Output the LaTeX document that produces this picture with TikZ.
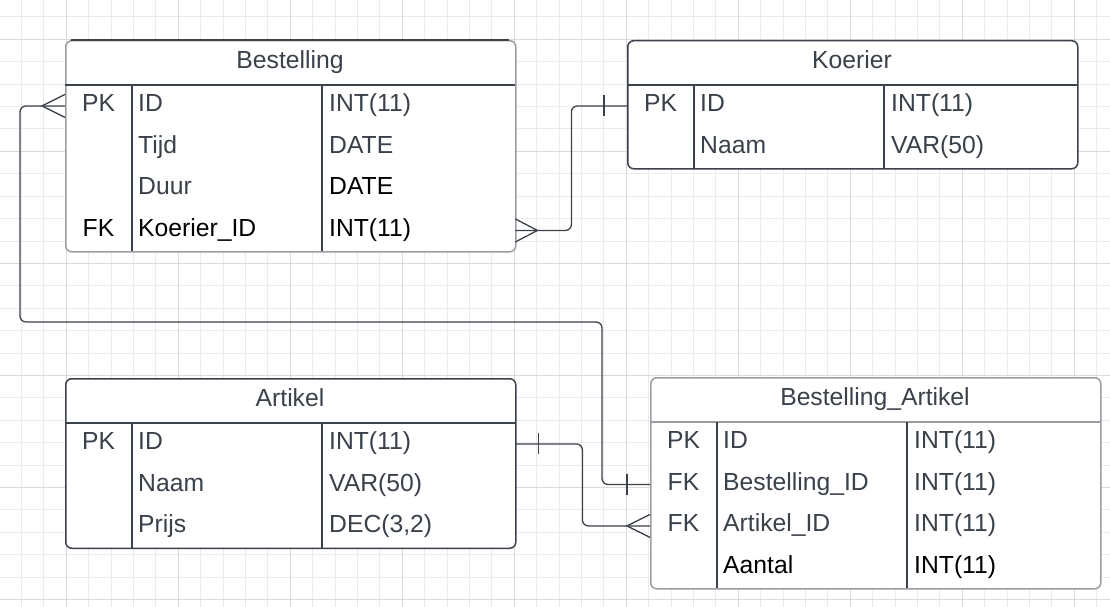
\documentclass[tikz,border=0pt]{standalone}
\usepackage{fontspec}
\setmainfont{Liberation Sans}
\definecolor{conncol}{HTML}{3B424A}
\definecolor{txtgray}{HTML}{3A414A}
\definecolor{bordgray}{HTML}{9A9DA2}
\definecolor{gridminor}{HTML}{EBEBEB}
\definecolor{gridmajor}{HTML}{DADADA}
\tikzset{
  conn/.style={draw=conncol, line width=1.3pt, rounded corners=6pt},
  tip/.style={draw=conncol, line width=1.3pt},
  tbl/.style={fill=white, line width=1.5pt, rounded corners=6pt, anchor=north west, inner sep=0pt, minimum width=450pt},
  rowbox/.style={draw=none, anchor=north west, inner sep=0pt, minimum width=450pt, minimum height=41.5pt},
  sep/.style={draw=conncol, line width=1.3pt},
  sepg/.style={draw=bordgray, line width=1.3pt},
  txt/.style={inner sep=0pt, font=\fontsize{24.7}{28}\selectfont, text=txtgray},
  blk/.style={text=black}
}
\begin{document}
\begin{tikzpicture}[x=1pt,y=-1pt]
\useasboundingbox (0,0) rectangle (1110,607);
\fill[white] (0,0) rectangle (1110,607);
% grid
\foreach \k in {1,...,49} \draw[gridminor, line width=1pt] ({22.4*\k-1},0) -- ({22.4*\k-1},607);
\foreach \j in {1,...,27} \draw[gridminor, line width=1pt] (0,{22.4*\j-5.4}) -- (1110,{22.4*\j-5.4});
\foreach \m in {0,...,9} \draw[gridmajor, line width=1.2pt] ({66.2+112*\m},0) -- ({66.2+112*\m},607);
\foreach \m in {0,...,5} \draw[gridmajor, line width=1.2pt] (0,{39.4+112*\m}) -- (1110,{39.4+112*\m});

% ---------- Bestelling ----------
\node[tbl, draw=bordgray, minimum height=211pt] (best) at (65,40) {};
\draw[sep, line width=1.5pt] (71,40) -- (509,40);
\draw[sep] (65,85) -- (515,85);
\draw[sep] (132,85) -- (132,251);
\draw[sep] (322,85) -- (322,251);
\node[txt, anchor=base] (bt) at (290,69) {Bestelling};
\foreach \i in {1,...,4} \node[rowbox] (b\i) at (65,{85+41.5*(\i-1)}) {};
\node[txt, anchor=base] (bk1) at (98.5,111.75) {PK};
\node[txt, anchor=base west] (bn1) at (138,111.75) {ID};
\node[txt, anchor=base west] (bv1) at (329,111.75) {INT(11)};
\node[txt, anchor=base west] (bn2) at (138,153.25) {Tijd};
\node[txt, anchor=base west] (bv2) at (329,153.25) {DATE};
\node[txt, anchor=base west] (bn3) at (138,194.75) {Duur};
\node[txt, blk, anchor=base west] (bv3) at (329,194.75) {DATE};
\node[txt, blk, anchor=base] (bk4) at (98.5,236.25) {FK};
\node[txt, blk, anchor=base west] (bn4) at (138,236.25) {Koerier\_ID};
\node[txt, blk, anchor=base west] (bv4) at (329,236.25) {INT(11)};

% ---------- Koerier ----------
\node[tbl, draw=conncol, minimum height=128pt] (koer) at (627,40) {};
\draw[sep] (627,85) -- (1077,85);
\draw[sep] (694,85) -- (694,168);
\draw[sep] (884,85) -- (884,168);
\node[txt, anchor=base] (kt) at (852,69) {Koerier};
\foreach \i in {1,2} \node[rowbox] (k\i) at (627,{85+41.5*(\i-1)}) {};
\node[txt, anchor=base] (kk1) at (660.5,111.75) {PK};
\node[txt, anchor=base west] (kn1) at (700,111.75) {ID};
\node[txt, anchor=base west] (kv1) at (891,111.75) {INT(11)};
\node[txt, anchor=base west] (kn2) at (700,153.25) {Naam};
\node[txt, anchor=base west] (kv2) at (891,153.25) {VAR(50)};

% ---------- Artikel ----------
\node[tbl, draw=conncol, minimum height=169.5pt] (art) at (65,378) {};
\draw[sep] (65,423) -- (515,423);
\draw[sep] (132,423) -- (132,547.5);
\draw[sep] (322,423) -- (322,547.5);
\node[txt, anchor=base] (at) at (290,406) {Artikel};
\foreach \i in {1,2,3} \node[rowbox] (a\i) at (65,{423+41.5*(\i-1)}) {};
\node[txt, anchor=base] (ak1) at (98.5,449.75) {PK};
\node[txt, anchor=base west] (an1) at (138,449.75) {ID};
\node[txt, anchor=base west] (av1) at (329,449.75) {INT(11)};
\node[txt, anchor=base west] (an2) at (138,491.25) {Naam};
\node[txt, anchor=base west] (av2) at (329,491.25) {VAR(50)};
\node[txt, anchor=base west] (an3) at (138,532.75) {Prijs};
\node[txt, anchor=base west] (av3) at (329,532.75) {DEC(3,2)};

% ---------- Bestelling_Artikel ----------
\node[tbl, draw=bordgray, minimum height=211pt] (ba) at (650,377) {};
\draw[sepg] (650,422) -- (1100,422);
\draw[sep] (717,422) -- (717,588);
\draw[sep] (907,422) -- (907,588);
\node[txt, anchor=base] (bat) at (875,405) {Bestelling\_Artikel};
\foreach \i in {1,...,4} \node[rowbox] (ba\i) at (650,{422+41.5*(\i-1)}) {};
\node[txt, anchor=base] (bak1) at (683.5,448.75) {PK};
\node[txt, anchor=base west] (ban1) at (723,448.75) {ID};
\node[txt, anchor=base west] (bav1) at (914,448.75) {INT(11)};
\node[txt, anchor=base] (bak2) at (683.5,490.25) {FK};
\node[txt, anchor=base west] (ban2) at (723,490.25) {Bestelling\_ID};
\node[txt, anchor=base west] (bav2) at (914,490.25) {INT(11)};
\node[txt, anchor=base] (bak3) at (683.5,531.75) {FK};
\node[txt, anchor=base west] (ban3) at (723,531.75) {Artikel\_ID};
\node[txt, anchor=base west] (bav3) at (914,531.75) {INT(11)};
\node[txt, blk, anchor=base west] (ban4) at (723,573.25) {Aantal};
\node[txt, blk, anchor=base west] (bav4) at (914,573.25) {INT(11)};

% ---------- connectors ----------
% Bestelling (many) -- Bestelling_Artikel (one)
\draw[conn] (b1.west) -- ++(-45,0) |- (602,322) |- (ba2.west);
\draw[tip] (b1.west) ++(0,-11.5) -- ++(-23,11.5) -- ++(23,11.5);
\draw[tip] (ba2.west) ++(-23,-10.5) -- ++(0,21);
% Bestelling.Koerier_ID (many) -- Koerier (one)
\draw[conn] (b4.east) -- ++(56,0) |- (k1.west);
\draw[tip] (b4.east) ++(0,-11.5) -- ++(22,11.5) -- ++(-22,11.5);
\draw[tip] (k1.west) ++(-23,-10.5) -- ++(0,21);
% Artikel (one) -- Bestelling_Artikel.Artikel_ID (many)
\draw[conn] (a1.east) -- ++(67,0) |- (ba3.west);
\draw[tip] (a1.east) ++(23,-10.5) -- ++(0,21);
\draw[tip] (ba3.west) ++(0,-11.5) -- ++(-23,11.5) -- ++(23,11.5);
\end{tikzpicture}
\end{document}
